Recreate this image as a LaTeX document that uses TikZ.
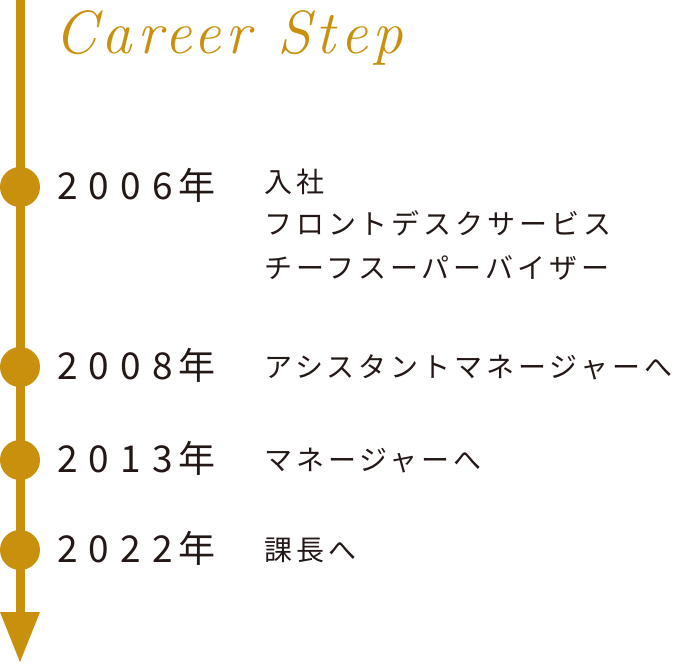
\documentclass[tikz,border=0pt]{standalone}
\usepackage{fontspec}
\usetikzlibrary{arrows.meta}
\newfontfamily\jpfont[LetterSpace=14]{Noto Sans CJK JP}
\newfontfamily\yearfont[LetterSpace=30]{Noto Sans CJK JP}
\newfontfamily\titlefont[LetterSpace=8]{Latin Modern Roman}
\definecolor{gold}{HTML}{C9900E}
\definecolor{ink}{HTML}{231815}
\newcommand{\nen}{\kern6pt 年}
\tikzset{
  dot/.style={circle, fill=gold, minimum size=40pt, inner sep=0pt},
  yeartext/.style={anchor=base west, inner sep=0pt, text=ink, font=\yearfont\fontsize{37pt}{40pt}\selectfont},
  jptext/.style={anchor=base west, inner sep=0pt, text=ink, font=\jpfont\fontsize{28pt}{32pt}\selectfont},
  titletext/.style={anchor=base west, inner sep=0pt, text=gold, font=\titlefont\itshape\fontsize{61pt}{64pt}\selectfont},
  timeline/.style={draw=gold, line width=9pt, -{Triangle[length=50pt, width=40pt, line width=0pt, fill=gold]}}
}
\begin{document}
\begin{tikzpicture}[x=1pt,y=-1pt]
\useasboundingbox (0,0) rectangle (677,664);
\coordinate (top) at (20,0);
\coordinate (tip) at (20,662);
\draw[timeline] (top) -- (tip);
\node[titletext] (title) at (54,53) {Career Step};
\node[dot] (d1) at (20,187) {};
\node[dot] (d2) at (20,367) {};
\node[dot] (d3) at (20,460) {};
\node[dot] (d4) at (20,550) {};
\node[yeartext] (y1) at (57,199) {2006\nen};
\node[yeartext] (y2) at (57,379) {2008\nen};
\node[yeartext] (y3) at (57,472) {2013\nen};
\node[yeartext] (y4) at (57,562) {2022\nen};
\node[jptext] (t1a) at (264,192) {入社};
\node[jptext] (t1b) at (264,234) {フロントデスクサービス};
\node[jptext] (t1c) at (264,278) {チーフスーパーバイザー};
\node[jptext] (t2) at (264,377) {アシスタントマネージャーへ};
\node[jptext] (t3) at (264,470) {マネージャーへ};
\node[jptext] (t4) at (264,560) {課長へ};
\end{tikzpicture}
\end{document}
